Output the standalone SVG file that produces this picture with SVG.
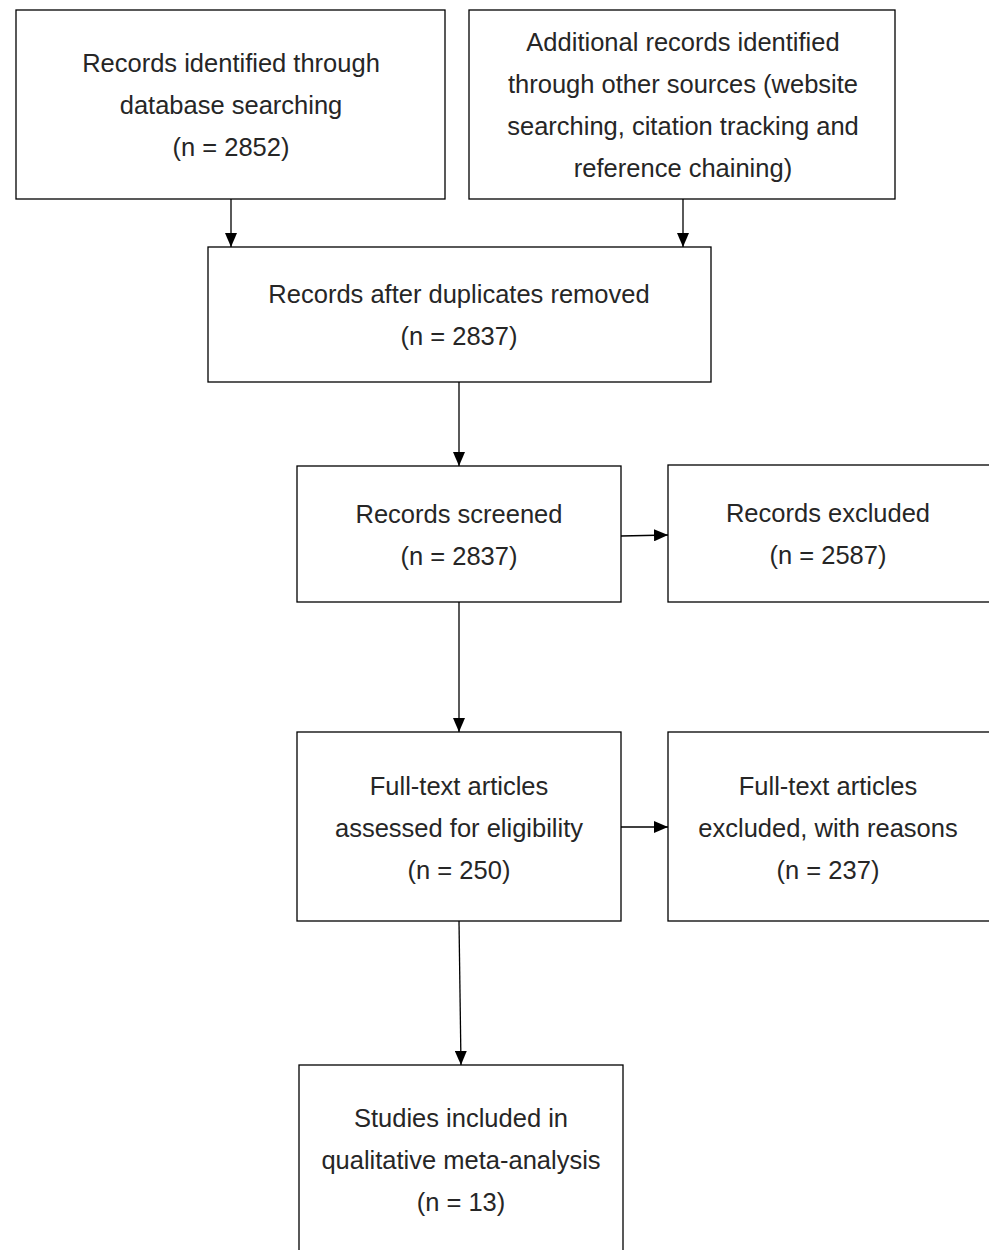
<svg xmlns="http://www.w3.org/2000/svg" width="989" height="1250" viewBox="0 0 989 1250">
<style>
rect.box{fill:#fff;stroke:#000;stroke-width:1.3}
text{font-family:"Liberation Sans",Arial,sans-serif;font-size:25.5px;fill:#262626;text-anchor:middle}
.c line{stroke:#000;stroke-width:1.3}
</style>
<defs>
<marker id="ah" markerWidth="14" markerHeight="12" refX="14" refY="6" orient="auto" markerUnits="userSpaceOnUse">
<path d="M0,0 L14,6 L0,12 z" fill="#000"/>
</marker>
</defs>
<rect width="989" height="1250" fill="#fff"/>
<g class="c">
<line x1="231" y1="199" x2="231" y2="247" marker-end="url(#ah)"/>
<line x1="683" y1="199" x2="683" y2="247" marker-end="url(#ah)"/>
<line x1="459" y1="382" x2="459" y2="466" marker-end="url(#ah)"/>
<line x1="621" y1="536" x2="668" y2="535" marker-end="url(#ah)"/>
<line x1="459" y1="602" x2="459" y2="732" marker-end="url(#ah)"/>
<line x1="621" y1="827" x2="668" y2="827" marker-end="url(#ah)"/>
<line x1="459" y1="921" x2="461" y2="1065" marker-end="url(#ah)"/>
</g>
<g id="n1"><rect class="box" x="16" y="10" width="429" height="189"/>
<text x="231" y="72">Records identified through</text>
<text x="231" y="114">database searching</text>
<text x="231" y="156">(n = 2852)</text></g>
<g id="n2"><rect class="box" x="469" y="10" width="426" height="189"/>
<text x="683" y="51">Additional records identified</text>
<text x="683" y="93">through other sources (website</text>
<text x="683" y="135">searching, citation tracking and</text>
<text x="683" y="177">reference chaining)</text></g>
<g id="n3"><rect class="box" x="208" y="247" width="503" height="135"/>
<text x="459" y="303">Records after duplicates removed</text>
<text x="459" y="345">(n = 2837)</text></g>
<g id="n4"><rect class="box" x="297" y="466" width="324" height="136"/>
<text x="459" y="523">Records screened</text>
<text x="459" y="565">(n = 2837)</text></g>
<g id="n5"><rect class="box" x="668" y="465" width="330" height="137"/>
<text x="828" y="522">Records excluded</text>
<text x="828" y="564">(n = 2587)</text></g>
<g id="n6"><rect class="box" x="297" y="732" width="324" height="189"/>
<text x="459" y="795">Full-text articles</text>
<text x="459" y="837">assessed for eligibility</text>
<text x="459" y="879">(n = 250)</text></g>
<g id="n7"><rect class="box" x="668" y="732" width="330" height="189"/>
<text x="828" y="795">Full-text articles</text>
<text x="828" y="837">excluded, with reasons</text>
<text x="828" y="879">(n = 237)</text></g>
<g id="n8"><rect class="box" x="299" y="1065" width="324" height="200"/>
<text x="461" y="1127">Studies included in</text>
<text x="461" y="1169">qualitative meta-analysis</text>
<text x="461" y="1211">(n = 13)</text></g>
</svg>
